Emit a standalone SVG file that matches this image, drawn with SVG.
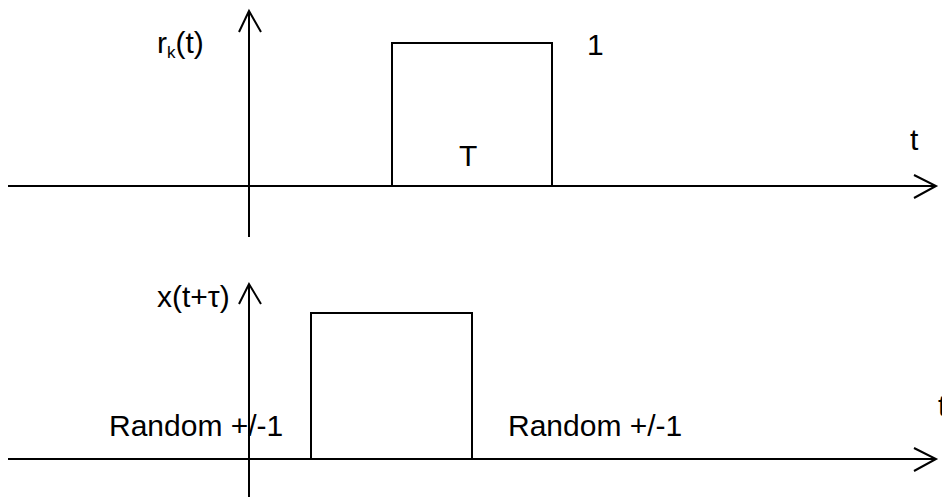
<svg xmlns="http://www.w3.org/2000/svg" width="942" height="501" viewBox="0 0 942 501">
<style>
.ln{stroke:#000;stroke-width:2;fill:none;stroke-linecap:butt}
.tx{font-family:"Liberation Sans",Arial,sans-serif;font-size:30px;fill:#000}
</style>
<rect width="942" height="501" fill="#fff"/>
<g id="connectors">
<g id="top-axes">
<line class="ln" x1="8" y1="186" x2="936" y2="186"/>
<polyline class="ln" points="914,175 936,186 914,198"/>
<line class="ln" x1="249" y1="237" x2="249" y2="11"/>
<polyline class="ln" points="239,32 249,11 261,32"/>
</g>
<g id="bottom-axes">
<line class="ln" x1="8" y1="459" x2="936" y2="459"/>
<polyline class="ln" points="914,448 936,459 914,471"/>
<line class="ln" x1="249" y1="497" x2="249" y2="284"/>
<polyline class="ln" points="239,304 249,284 261,304"/>
</g>
</g>
<g id="pulse-top">
<polyline class="ln" points="392,186 392,43 552,43 552,186"/>
</g>
<g id="pulse-bottom">
<polyline class="ln" points="311,459 311,313 472,313 472,459"/>
</g>
<g id="labels">
<text class="tx" x="157" y="53">r<tspan font-size="17" dy="5">k</tspan><tspan dy="-5">(t)</tspan></text>
<text class="tx" x="587" y="55">1</text>
<text class="tx" x="459" y="166">T</text>
<text class="tx" x="910" y="150">t</text>
<text class="tx" x="157" y="307">x(t+τ)</text>
<text class="tx" x="109" y="436">Random +/-1</text>
<text class="tx" x="508" y="436">Random +/-1</text>
<text class="tx" x="938" y="416">t</text>
</g>
</svg>
